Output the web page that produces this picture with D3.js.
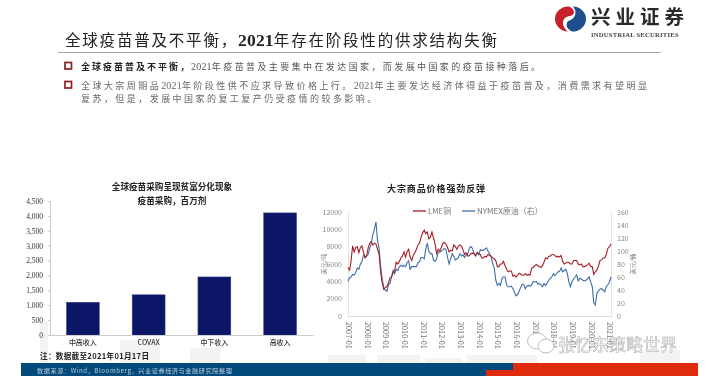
<!DOCTYPE html>
<html><head><meta charset="utf-8">
<script src="https://cdn.jsdelivr.net/npm/d3@7/dist/d3.min.js"></script>
<style>
html,body{margin:0;padding:0;background:#fff}
svg{display:block;filter:blur(0.4px)}
text{font-family:"Noto Sans CJK SC","Noto Sans",sans-serif}
.ser{font-family:"Liberation Serif","Noto Sans CJK SC",serif}
</style></head><body>
<svg id="c" width="709" height="385"></svg>
<script>
const title = "全球疫苗普及不平衡，2021年存在阶段性的供求结构失衡";
const bullet1Bold = "全球疫苗普及不平衡，";
const bullet1 = "2021年疫苗普及主要集中在发达国家，而发展中国家的疫苗接种落后。";
const bullet2a = "全球大宗周期品2021年阶段性供不应求导致价格上行。2021年主要发达经济体得益于疫苗普及，消费需求有望明显";
const bullet2b = "复苏，但是，发展中国家的复工复产仍受疫情的较多影响。";
const barTitle = ["全球疫苗采购呈现贫富分化现象", "疫苗采购，百万剂"];
const barCategories = ["中高收入", "COVAX", "中下收入", "高收入"];
const barValues = [1100, 1350, 1950, 4100];
const barTicks = [0,500,1000,1500,2000,2500,3000,3500,4000,4500];
const lineTitle = "大宗商品价格强劲反弹";
const copperName = "LME铜", oilName = "NYMEX原油（右）";
const copperTicks = [0,2000,4000,6000,8000,10000,12000];
const oilTicks = [0,20,40,60,80,100,120,140,160];
const yearLabels = ["2007-01","2008-01","2009-01","2010-01","2011-01","2012-01","2013-01","2014-01","2015-01","2016-01","2017-01","2018-01","2019-01","2020-01","2021-01"];
const copper = [5600,5300,6300,8100,7400,7900,8000,7300,7900,8100,7300,6700,
 7000,7900,8400,8600,8200,8400,8300,7700,7100,5000,3800,3100,
 3300,3400,3800,4400,4500,5000,5200,6200,6000,6300,6700,6900,
 7400,6800,7400,7700,6800,6400,7000,7300,7700,8200,8400,9100,
 9600,9900,9500,9700,8900,9100,9700,9000,8300,7200,7700,7500,
 7900,8400,8500,8300,7900,7400,7600,7500,8200,8000,7700,8100,
 8200,8000,7600,7100,7300,6900,6950,7200,7250,7200,7000,7300,
 7200,7100,6700,6700,6900,6800,7100,7000,6900,6700,6600,6400,
 5700,5700,6000,6000,6300,5800,5400,5100,5200,5200,4600,4700,
 4500,4700,4950,4850,4700,4700,4900,4700,4800,4700,5500,5600,
 5800,5950,5800,5700,5600,5800,6200,6700,6600,6900,6900,7100,
 7100,7000,6800,6900,6800,7000,6300,6000,6100,6200,6200,6000,
 6000,6400,6400,6400,6000,5900,6000,5700,5700,5800,5900,6100,
 5700,5700,4800,5100,5300,5800,6400,6500,6700,6700,7100,7800,8000,8300];
const oil = [53,59,60,64,63,67,74,72,80,84,94,91,
 92,95,104,112,125,134,145,116,104,76,57,42,
 40,38,48,50,60,70,65,72,70,76,78,76,
 78,76,82,85,72,76,76,76,76,82,84,90,
 90,88,102,112,100,96,96,86,84,88,98,98,
 100,102,104,102,90,80,88,96,92,86,88,90,
 96,92,94,90,94,96,104,107,104,96,92,98,
 94,102,101,101,103,105,100,96,91,81,74,55,
 47,50,47,58,60,60,48,45,45,46,42,37,
 31,33,38,44,49,48,42,46,47,46,48,53,
 52,53,49,50,48,45,50,47,51,55,58,60,
 65,62,65,68,68,74,68,70,72,65,52,45,
 53,57,60,63,54,58,57,55,54,55,57,60,
 52,45,20,17,35,39,41,42,40,37,45,48,52,60];
const buildings = [[40,322,8,41],[120,340,40,23],[190,348,30,15],[328,355,38,8],[377,355,43,8],[425,358,37,5],[467,355,70,8],[640,350,40,13]];

const svg = d3.select("#c");
svg.append("g").selectAll("rect").data(buildings).join("rect")
 .attr("x",d=>d[0]).attr("y",d=>d[1]).attr("width",d=>d[2]).attr("height",d=>d[3]).attr("fill","#f3f3f3");

function mixed(sel, str, numSize, numWeight){
  str.split(/(\d+)/).filter(s=>s).forEach(s=>{
    const t = sel.append("tspan").text(s);
    if(/^\d+$/.test(s)) t.style("font-family",'"Liberation Serif",serif').attr("font-size",numSize).attr("font-weight",numWeight).attr("letter-spacing",0.2);
  });
}
// header
const tt = svg.append("text").attr("x",65).attr("y",45.5).attr("font-size",15.5).attr("letter-spacing",1.8).attr("fill","#222");
mixed(tt,title,17.5,700);
svg.append("line").attr("x1",58).attr("x2",661).attr("y1",52.5).attr("y2",52.5).attr("stroke","#a8a8a8");
function bullet(y){svg.append("rect").attr("x",65).attr("y",y-3.5).attr("width",6.5).attr("height",6.5).attr("fill","none").attr("stroke","#8e1f24").attr("stroke-width",1.7);}
bullet(66); bullet(85);
const t1 = svg.append("text").attr("x",81).attr("y",69.5).attr("font-size",9).attr("letter-spacing",2.4).attr("fill","#555");
t1.append("tspan").attr("font-weight",700).attr("fill","#222").attr("letter-spacing",2).text(bullet1Bold);
mixed(t1,bullet1,10,400);
const t2 = svg.append("text").attr("x",81).attr("y",88.5).attr("font-size",9).attr("letter-spacing",2.45).attr("fill","#666");
mixed(t2,bullet2a,10,400);
svg.append("text").attr("x",81).attr("y",101.5).attr("font-size",9).attr("letter-spacing",2.45).attr("fill","#666").text(bullet2b);

// logo
const logo = svg.append("g").attr("transform","translate(570,19)");
logo.append("path").attr("d","M-1,-12.5 A13.5,12.5 0 0 0 -2,12.5 C-9,7 -9,-2 0,-3 C5,-4 6,-9 -1,-12.5Z").attr("fill","#c8202a");
logo.append("path").attr("d","M3,-12.5 A13.5,12.5 0 0 1 2,12.5 C-3,10 -5,6 -2,2 C3,1 9,-5 3,-12.5Z").attr("fill","#1f4e8c");
svg.append("text").attr("x",591).attr("y",24).attr("font-size",19.5).attr("font-weight",700).attr("letter-spacing",5).attr("fill","#2a2a2a").text("兴业证券");
svg.append("text").attr("class","ser").attr("x",591).attr("y",36.5).attr("font-size",6.6).attr("font-weight",700).attr("letter-spacing",0.25).attr("fill","#444").text("INDUSTRIAL SECURITIES");

// bar chart
const bx = d3.scaleBand().domain(barCategories).range([50,313]).paddingInner(0.5).paddingOuter(0.25);
const by = d3.scaleLinear().domain([0,4500]).range([335,201]);
svg.append("g").attr("text-anchor","middle").selectAll("text").data(barTitle).join("text")
 .attr("x",172).attr("y",(d,i)=>190+i*14).attr("font-size",8.6).attr("font-weight",700).attr("fill","#222").text(d=>d);
svg.selectAll("rect.bar").data(barValues).join("rect").attr("class","bar")
 .attr("x",(d,i)=>bx(barCategories[i])).attr("width",bx.bandwidth())
 .attr("y",d=>by(d)).attr("height",d=>by(0)-by(d)).attr("fill","#0b1667").attr("stroke","#3b4488").attr("stroke-width",0.5);
const byAxis = svg.append("g").attr("transform","translate(50,0)").call(d3.axisLeft(by).tickValues(barTicks).tickSize(2).tickPadding(5).tickFormat(d3.format(",")));
byAxis.selectAll("text").attr("class","ser").attr("font-size",7.5).attr("fill","#333");
byAxis.selectAll("line,path").attr("stroke","#ccc");
const bxAxis = svg.append("g").attr("transform","translate(0,335)").call(d3.axisBottom(bx).tickSize(0).tickPadding(5));
bxAxis.selectAll("text").attr("font-size",7).attr("font-weight",500).attr("fill","#333");
bxAxis.select("path").attr("stroke","#ccc");
svg.append("text").attr("x",40).attr("y",359).attr("font-size",7.6).attr("font-weight",700).attr("letter-spacing",0.3).attr("fill","#222").text("注：数据截至2021年01月17日");

// line chart
const start = new Date(Date.UTC(2007,0,1));
const dates = i => d3.utcMonth.offset(start,i);
const lx = d3.scaleUtc().domain([start,d3.utcMonth.offset(start,169)]).range([348,611]);
const ly = d3.scaleLinear().domain([0,12000]).range([316,212]);
const ry = d3.scaleLinear().domain([0,160]).range([316,212]);
svg.append("text").attr("x",387).attr("y",191.5).attr("font-size",9).attr("font-weight",700).attr("letter-spacing",0.9).attr("fill","#222").text(lineTitle);
const lAxis = svg.append("g").attr("transform","translate(348,0)").call(d3.axisLeft(ly).tickValues(copperTicks).tickSize(0).tickPadding(6).tickFormat(d3.format("d")));
lAxis.selectAll("text").attr("font-size",7).attr("fill","#888");
const rAxis = svg.append("g").attr("transform","translate(611,0)").call(d3.axisRight(ry).tickValues(oilTicks).tickSize(0).tickPadding(6));
rAxis.selectAll("text").attr("font-size",7).attr("fill","#888");
[lAxis,rAxis].forEach(a=>a.select("path").attr("stroke","#e2e2e2"));
const xAxis = svg.append("g").attr("transform","translate(0,316)").call(d3.axisBottom(lx).tickValues(yearLabels.map((d,i)=>dates(i*12))).tickSize(0).tickFormat((d,i)=>yearLabels[i]));
xAxis.select("path").attr("stroke","#ddd");
xAxis.selectAll("text").attr("font-size",7.3).attr("fill","#777").attr("text-anchor","start").attr("transform","rotate(90)").attr("x",6).attr("y",2.5).attr("dy",0);
svg.append("text").attr("transform","translate(326,264) rotate(-90)").attr("text-anchor","middle").attr("font-size",6.2).attr("fill","#888").text("美元/吨");
svg.append("text").attr("transform","translate(635,264) rotate(-90)").attr("text-anchor","middle").attr("font-size",6.2).attr("fill","#888").text("美元/桶");
const line = (y)=>d3.line().x((d,i)=>lx(dates(i))).y(d=>y(d));
svg.append("path").datum(oil).attr("d",line(ry)).attr("fill","none").attr("stroke","#3f6dab").attr("stroke-width",1.1);
svg.append("path").datum(copper).attr("d",line(ly)).attr("fill","none").attr("stroke","#a81c24").attr("stroke-width",1.1);
svg.append("line").attr("x1",413).attr("x2",426).attr("y1",211).attr("y2",211).attr("stroke","#a81c24").attr("stroke-width",1.3);
svg.append("text").attr("x",428).attr("y",214).attr("font-size",7.8).attr("fill","#777").text(copperName);
svg.append("line").attr("x1",462).attr("x2",475).attr("y1",211).attr("y2",211).attr("stroke","#3f6dab").attr("stroke-width",1.3);
svg.append("text").attr("x",477).attr("y",214).attr("font-size",8).attr("fill","#777").text(oilName);

// footer
svg.append("rect").attr("x",21).attr("y",363).attr("width",492).attr("height",7).attr("fill","#034a7c");
svg.append("rect").attr("x",21).attr("y",370).attr("width",465).attr("height",6).attr("fill","#034a7c");
svg.append("rect").attr("x",513).attr("y",363).attr("width",185).attr("height",7).attr("fill","#e02a0c");
svg.append("rect").attr("x",486).attr("y",370).attr("width",212).attr("height",6).attr("fill","#e02a0c");
svg.append("text").attr("x",37).attr("y",372.5).attr("font-size",6.2).attr("letter-spacing",0.55).attr("fill","#b9cbd9").text("数据来源：Wind，Bloomberg，兴业证券经济与金融研究院整理");

// watermark
const wm = svg.append("g").attr("fill","#fff").attr("stroke","#b5b5b5").attr("stroke-width",0.9);
wm.append("ellipse").attr("cx",537).attr("cy",341).attr("rx",9.5).attr("ry",8);
wm.append("ellipse").attr("cx",546).attr("cy",346).attr("rx",8).attr("ry",7);
svg.append("text").attr("x",558).attr("y",351).attr("font-size",17).attr("fill","#fff").attr("stroke","#aaa").attr("stroke-width",0.5).text("张忆东策略世界");
</script>
</body></html>
